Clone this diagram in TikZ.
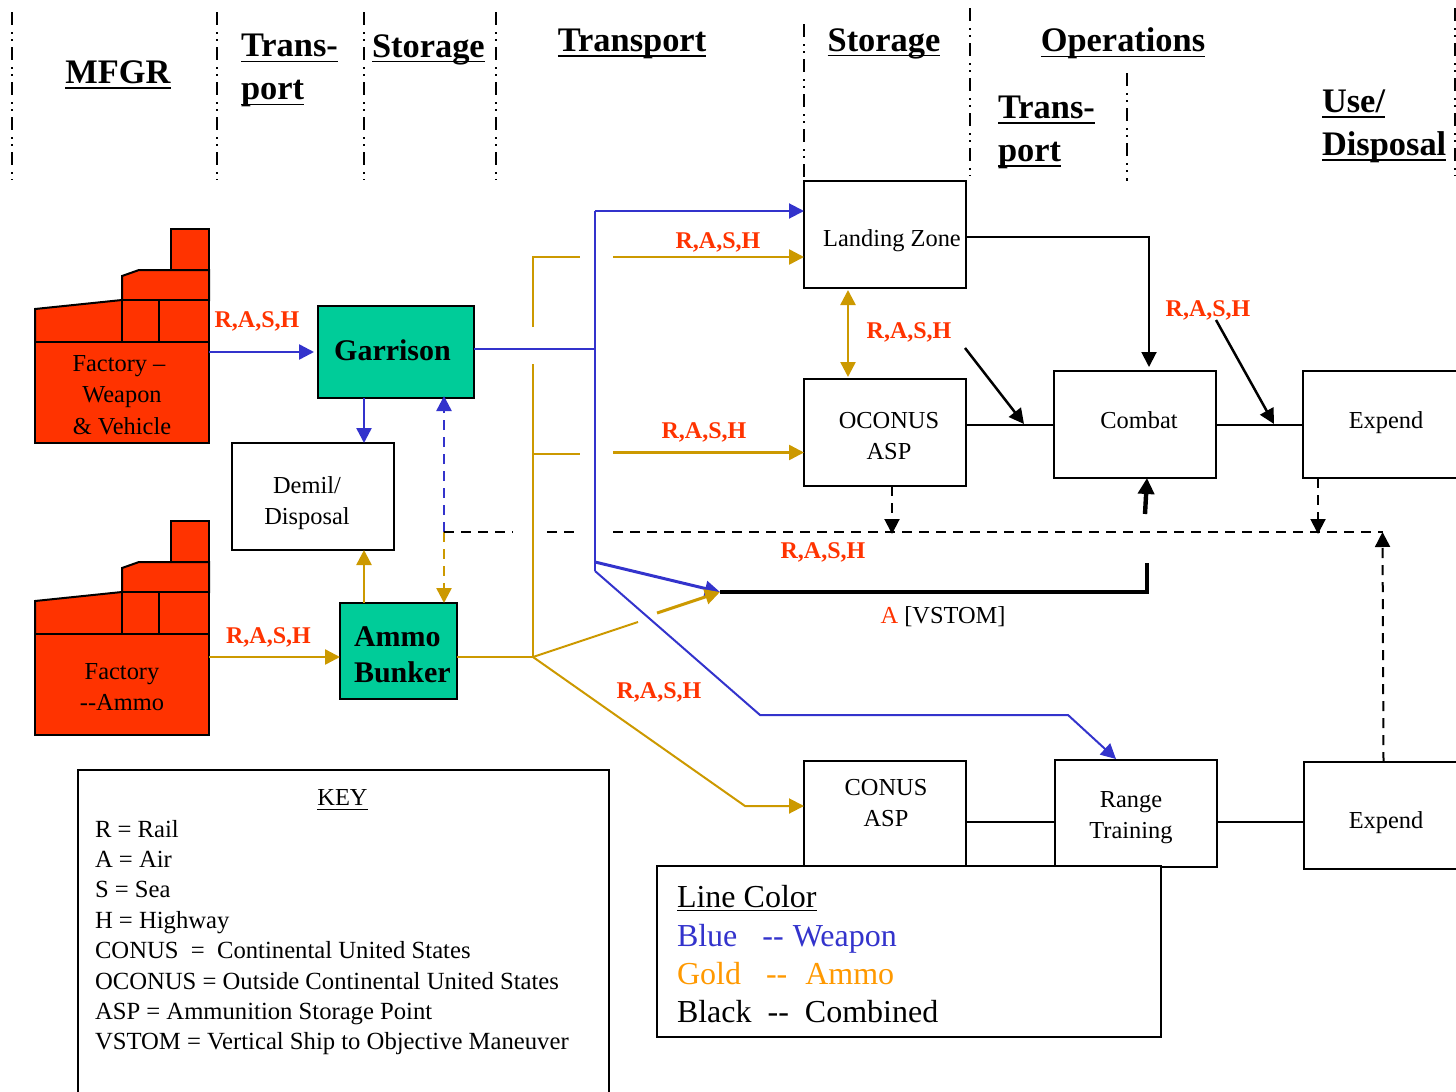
\documentclass[tikz,border=0pt]{standalone}
\usepackage{fontspec}
\setmainfont{Liberation Serif}
\usetikzlibrary{arrows.meta}
\definecolor{wblue}{HTML}{3333CC}
\definecolor{agold}{HTML}{CC9900}
\definecolor{lgold}{HTML}{FF9900}
\definecolor{rred}{HTML}{FF3300}
\definecolor{sgreen}{HTML}{00CC99}
\newcommand\hdul[1]{\leavevmode\setbox0\hbox{#1}\rlap{\vrule width\wd0 height -2.0pt depth 2.7pt}\box0}
\newcommand\kul[1]{\leavevmode\setbox0\hbox{#1}\rlap{\vrule width\wd0 height -1.5pt depth 2.0pt}\box0}
\tikzset{
  tip/.style={-{Triangle[length=7.5pt,width=7.5pt]}},
  bigtip/.style={-{Triangle[length=8pt,width=8pt]}},
  divider/.style={line width=0.8pt,dash pattern=on 6.5pt off 3.5pt on 0.8pt off 2.7pt on 0.8pt off 3.2pt},
  hd/.style={inner sep=0pt,outer sep=0pt,align=left,font=\fontsize{17.2}{21.5}\selectfont\bfseries},
  txt/.style={inner sep=0pt,outer sep=0pt,align=center,font=\fontsize{12.2}{15.5}\selectfont},
  rash/.style={inner sep=0pt,outer sep=0pt,text=rred,font=\fontsize{12}{14}\selectfont\bfseries},
  box/.style={draw=black,line width=1pt,fill=white,inner sep=0pt,outer sep=0pt},
  stbox/.style={box,fill=sgreen},
  fact/.style={draw=black,line width=1pt,fill=rred,line join=miter},
  factbody/.style={fact,inner sep=0pt,outer sep=0pt,minimum width=87pt,minimum height=50.5pt},
  bline/.style={wblue,line width=1pt},
  gline/.style={agold,line width=1pt},
  kline/.style={black,line width=1pt},
  kdash/.style={black,line width=1pt,dash pattern=on 5pt off 3.5pt},
  leg/.style={inner sep=0pt,outer sep=0pt,anchor=west,font=\fontsize{16}{19}\selectfont},
}
\begin{document}
\begin{tikzpicture}[x=0.5pt,y=-0.5pt]
\useasboundingbox (0,0) rectangle (1456,1092);
\clip (0,0) rectangle (1456,1092);

% column dividers
\foreach \n/\xx/\ya/\yb in {a/12/12/180,b/217/12/180,c/364/12/180,d/496/12/180,e/804/24/180,f/970/8/176,g/1127/73/181,h/1455/8/176}{
  \coordinate (dt\n) at (\xx,\ya);
  \coordinate (db\n) at (\xx,\yb);
  \draw[divider] (dt\n) -- (db\n);
}
% headers
\node[hd] (hMfgr) at (118,74.5) {\hdul{MFGR}};
\node[hd,anchor=west] (hTr1) at (241,70.5) {\hdul{Trans-}\\\hdul{port}};
\node[hd,anchor=west] (hSt1) at (372,49.5) {\hdul{Storage}};
\node[hd] (hTr2) at (632,43.5) {\hdul{Transport}};
\node[hd] (hSt2) at (884,43.5) {\hdul{Storage}};
\node[hd] (hOps) at (1123,43.5) {\hdul{Operations}};
\node[hd,anchor=west] (hTr3) at (998,132) {\hdul{Trans-}\\\hdul{port}};
\node[hd,anchor=west] (hUse) at (1322,126) {\hdul{Use/}\\\hdul{Disposal}};

% factories
\foreach \n/\dy in {A/0,B/292}{
  \begin{scope}[yshift=-\dy*0.5pt]
    \draw[fact] (171,270) -- (171,229) -- (209,229) -- (209,270) -- cycle;
    \draw[fact] (122,300) -- (122,276) -- (139,270) -- (209,270) -- (209,300) -- cycle;
    \draw[fact] (35,342) -- (35,309) -- (122,300) -- (122,342) -- cycle;
    \draw[fact] (122,300) rectangle (159,342);
    \draw[fact] (159,300) rectangle (209,342);
  \end{scope}
}
\node[factbody] (factA) at (122,392.5) {};
\node[factbody] (factB) at (122,684.5) {};
\node[txt] (factAt) at (122,395) {\hspace*{-3pt}Factory --\\[0.2pt]Weapon\\[0.2pt]\& Vehicle};
\node[txt] (factBt) at (122,687) {Factory\\[-0.2pt]-\kern0pt-Ammo};

% boxes
\node[stbox,minimum width=78pt,minimum height=46pt] (garrison) at (396,352) {};
\node[txt,font=\fontsize{15}{18}\selectfont\bfseries] (garrisont) at (392.5,350) {Garrison};
\node[box,minimum width=81pt,minimum height=53.5pt] (demil) at (313,496.5) {};
\node[txt] (demilt) at (307,503) {Demil/\\Disposal};
\node[stbox,minimum width=58.5pt,minimum height=48pt] (bunker) at (398.5,651) {};
\node[txt,align=left,anchor=west,font=\fontsize{15}{18}\selectfont\bfseries] (bunkert) at (354,655) {Ammo\\Bunker};
\node[box,minimum width=81pt,minimum height=53.5pt] (lz) at (885,234.5) {};
\node[txt] (lzt) at (892,241) {Landing Zone};
\node[box,minimum width=81pt,minimum height=53.5pt] (oconus) at (885,432.5) {};
\node[txt] (oconust) at (889,436) {OCONUS\\ASP};
\node[box,minimum width=81pt,minimum height=53.5pt] (combat) at (1135,424.5) {};
\node[txt] (combatt) at (1139,420) {Combat};
\node[box,minimum width=81pt,minimum height=53.5pt] (expA) at (1384,424.5) {};
\node[txt] (expAt) at (1386,423) {Expend};
\node[box,minimum width=81pt,minimum height=53.5pt] (conus) at (885,814.5) {};
\node[txt] (conust) at (886,803) {CONUS\\ASP};
\node[box,minimum width=81pt,minimum height=53.5pt] (range) at (1136,813.5) {};
\node[txt] (ranget) at (1131,817.5) {Range\\Training};
\node[box,minimum width=81pt,minimum height=53.5pt] (expB) at (1385,815.5) {};
\node[txt] (expBt) at (1386,823) {Expend};

% junctions
\coordinate (jBlue) at (595,349);
\coordinate (jBlueTop) at (595,211);
\coordinate (jBlueA) at (595,562);
\coordinate (jBlueB) at (595,571);
\coordinate (jGold) at (533,657);
\coordinate (jDash) at (444,532);
\coordinate (vstom) at (720,592);

% weapon (blue)
\draw[bline,line width=1.25pt,tip] (factA.east |- 0,352) -- (314,352);
\draw[bline,line width=1.25pt,tip] (garrison.south -| 364,0) -- (demil.north -| 364,0);
\draw[bline] (garrison.east |- 0,349) -- (jBlue);
\draw[bline] (jBlueTop) -- (jBlueB);
\draw[bline,tip] (jBlueTop) -- (lz.west |- jBlueTop);
\draw[bline,line width=1.5pt,tip] (jBlueA) -- (vstom);
\draw[bline,tip] (jBlueB) -- (760,715) -- (1068,715) -- (1116,759);
\draw[bline,dash pattern=on 5pt off 3.5pt,line width=1.25pt,tip] (jDash) -- (444,396);

% ammo (gold)
\draw[gline,line width=1.25pt,tip] (factB.east |- jGold) -- (bunker.west |- jGold);
\draw[gline,line width=1.25pt,tip] (bunker.north -| 364,0) -- (demil.south -| 364,0);
\draw[gline,dash pattern=on 5pt off 3.5pt,line width=1.25pt,tip] (jDash) -- (bunker.north -| 444,0);
\draw[gline] (bunker.east |- jGold) -- (jGold);
\draw[gline] (jGold) -- (533,364);
\draw[gline] (533,327) -- (533,257) -- (580,257);
\draw[gline] (533,454) -- (580,454);
\draw[gline,line width=1.25pt,tip] (613,257) -- (lz.west |- 0,257);
\draw[gline,line width=1.25pt,tip] (613,452.5) -- (oconus.west |- 0,452.5);
\draw[gline] (jGold) -- (638,622);
\draw[gline,line width=1.5pt,tip] (657,613) -- (vstom);
\draw[gline,tip] (jGold) -- (745,806) -- (conus.west |- 0,806);
\draw[gline,line width=1.25pt,{Triangle[length=7.5pt,width=7.5pt]}-{Triangle[length=7.5pt,width=7.5pt]}] (848,290) -- (848,377);

% combined (black)
\draw[kline,tip] (lz.east |- 0,237) -- (1149,237) -- (1149,367);
\draw[kline] (oconus.east |- 0,425) -- (combat.west |- 0,425);
\draw[kline] (combat.east |- 0,425) -- (expA.west |- 0,425);
\draw[kline,line width=1.25pt,tip] (965,348) -- (1024,424);
\draw[kline,line width=1.25pt,tip] (1216,320) -- (1274,424);
\draw[kdash,tip] (oconus.south -| 892,0) -- (892,534);
\draw[kdash,tip] (expA.south -| 1318,0) -- (1318,534);
\draw[kdash] (jDash) -- (513,532);
\draw[kdash] (547,532) -- (580,532);
\draw[kdash] (613,532) -- (1383,532);
\draw[kdash,tip] (expB.north -| 1383.5,0) -- (1382.5,532);
\draw[black,line width=2pt] (vstom) -- (1147,592) -- (1147,563);
\draw[black,line width=2.2pt,bigtip] (1145,514) -- (combat.south -| 1147,0);
\draw[kline] (conus.east |- 0,822) -- (range.west |- 0,822);
\draw[kline] (range.east |- 0,822) -- (expB.west |- 0,822);

% mode labels
\node[rash] (r1) at (257,321) {R,A,S,H};
\node[rash] (r2) at (268.5,637) {R,A,S,H};
\node[rash] (r3) at (718,242) {R,A,S,H};
\node[rash] (r4) at (704,432) {R,A,S,H};
\node[rash] (r5) at (909,332) {R,A,S,H};
\node[rash] (r6) at (1208,310) {R,A,S,H};
\node[rash] (r7) at (823,552) {R,A,S,H};
\node[rash] (r8) at (659,692) {R,A,S,H};
\node[txt] (vst) at (943,617) {\textcolor{rred}{A} [VSTOM]};

% key
\node[box,minimum width=265.5pt,minimum height=165pt] (key) at (343.5,935) {};
\node[txt] (keyt) at (342.5,800) {\kul{KEY}};
\node[txt,align=left,anchor=north west,font=\fontsize{12.33}{15.2}\selectfont] (keyb) at (95,820) {R = Rail\\A = Air\\S = Sea\\H = Highway\\CONUS\ \ =\ \ Continental United States\\OCONUS = Outside Continental United States\\ASP = Ammunition Storage Point\\VSTOM = Vertical Ship to Objective Maneuver};

% legend
\node[box,minimum width=252pt,minimum height=85.5pt] (legend) at (909,951.5) {};
\node[leg] (l1) at (677,898) {\kul{Line Color}};
\node[leg,text=wblue] (l2) at (677,939) {Blue\hspace{12.5pt}-\kern0pt-\hspace{4.5pt}Weapon};
\node[leg,text=lgold] (l3) at (677,974) {Gold\hspace{12.5pt}-\kern0pt-\hspace{9pt}Ammo};
\node[leg] (l4) at (677,1012) {Black\hspace{8pt}-\kern0pt-\hspace{8pt}Combined};
\end{tikzpicture}
\end{document}
